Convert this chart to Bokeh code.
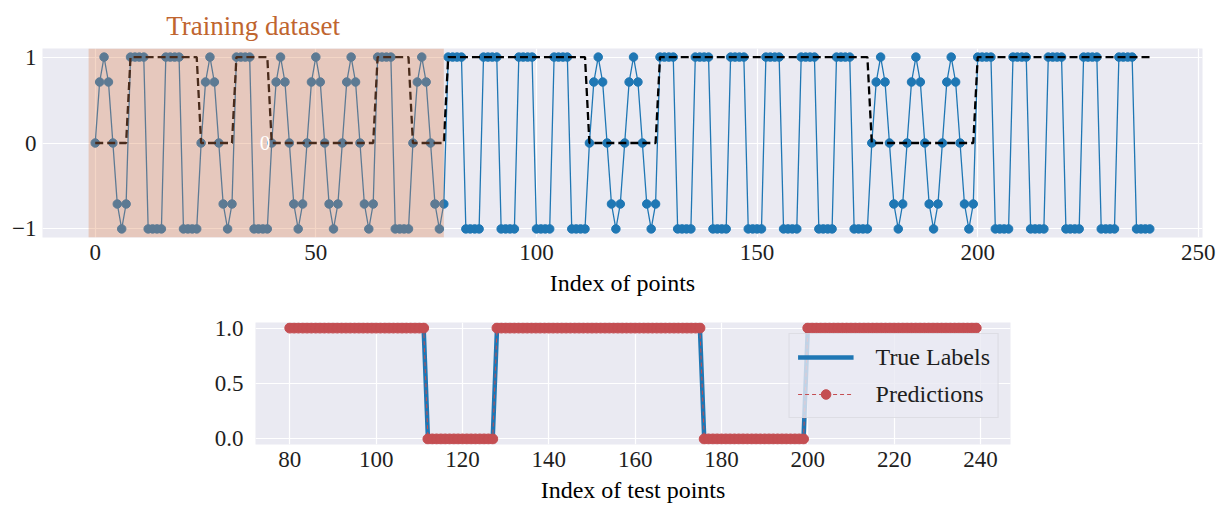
import numpy as np
from bokeh.plotting import figure
from bokeh.models import (Range1d, FixedTicker, BoxAnnotation, Label, Legend,
                          LegendItem, Spacer, Title)
from bokeh.layouts import column, row
from bokeh.embed import file_html
from bokeh.resources import INLINE

# ---------------------------------------------------------------- data
# Input signal, one row per block of 8 samples
signal = [
    0, 0.71, 1, 0.71, 0, -0.71, -1, -0.71,   # 0
    1, 1, 1, 1, -1, -1, -1, -1,              # 8
    1, 1, 1, 1, -1, -1, -1, -1,              # 16
    0, 0.71, 1, 0.71, 0, -0.71, -1, -0.71,   # 24
    1, 1, 1, 1, -1, -1, -1, -1,              # 32
    0, 0.71, 1, 0.71, 0, -0.71, -1, -0.71,   # 40
    0, 0.71, 1, 0.71, 0, -0.71, -1, -0.71,   # 48
    0, 0.71, 1, 0.71, 0, -0.71, -1, -0.71,   # 56
    1, 1, 1, 1, -1, -1, -1, -1,              # 64
    0, 0.71, 1, 0.71, 0, -0.71, -1, -0.71,   # 72
    1, 1, 1, 1, -1, -1, -1, -1,              # 80
    1, 1, 1, 1, -1, -1, -1, -1,              # 88
    1, 1, 1, 1, -1, -1, -1, -1,              # 96
    1, 1, 1, 1, -1, -1, -1, -1,              # 104
    0, 0.71, 1, 0.71, 0, -0.71, -1, -0.71,   # 112
    0, 0.71, 1, 0.71, 0, -0.71, -1, -0.71,   # 120
    1, 1, 1, 1, -1, -1, -1, -1,              # 128
    1, 1, 1, 1, -1, -1, -1, -1,              # 136
    1, 1, 1, 1, -1, -1, -1, -1,              # 144
    1, 1, 1, 1, -1, -1, -1, -1,              # 152
    1, 1, 1, 1, -1, -1, -1, -1,              # 160
    1, 1, 1, 1, -1, -1, -1, -1,              # 168
    0, 0.71, 1, 0.71, 0, -0.71, -1, -0.71,   # 176
    0, 0.71, 1, 0.71, 0, -0.71, -1, -0.71,   # 184
    0, 0.71, 1, 0.71, 0, -0.71, -1, -0.71,   # 192
    1, 1, 1, 1, -1, -1, -1, -1,              # 200
    1, 1, 1, 1, -1, -1, -1, -1,              # 208
    1, 1, 1, 1, -1, -1, -1, -1,              # 216
    1, 1, 1, 1, -1, -1, -1, -1,              # 224
    1, 1, 1, 1, -1, -1, -1, -1,              # 232
]

# Class label of every sample (0 = sine, 1 = square)
labels = [
    0, 0, 0, 0, 0, 0, 0, 0,   1, 1, 1, 1, 1, 1, 1, 1,   # 0
    1, 1, 1, 1, 1, 1, 1, 1,   0, 0, 0, 0, 0, 0, 0, 0,   # 16
    1, 1, 1, 1, 1, 1, 1, 1,   0, 0, 0, 0, 0, 0, 0, 0,   # 32
    0, 0, 0, 0, 0, 0, 0, 0,   0, 0, 0, 0, 0, 0, 0, 0,   # 48
    1, 1, 1, 1, 1, 1, 1, 1,   0, 0, 0, 0, 0, 0, 0, 0,   # 64
    1, 1, 1, 1, 1, 1, 1, 1,   1, 1, 1, 1, 1, 1, 1, 1,   # 80
    1, 1, 1, 1, 1, 1, 1, 1,   1, 1, 1, 1, 1, 1, 1, 1,   # 96
    0, 0, 0, 0, 0, 0, 0, 0,   0, 0, 0, 0, 0, 0, 0, 0,   # 112
    1, 1, 1, 1, 1, 1, 1, 1,   1, 1, 1, 1, 1, 1, 1, 1,   # 128
    1, 1, 1, 1, 1, 1, 1, 1,   1, 1, 1, 1, 1, 1, 1, 1,   # 144
    1, 1, 1, 1, 1, 1, 1, 1,   1, 1, 1, 1, 1, 1, 1, 1,   # 160
    0, 0, 0, 0, 0, 0, 0, 0,   0, 0, 0, 0, 0, 0, 0, 0,   # 176
    0, 0, 0, 0, 0, 0, 0, 0,   1, 1, 1, 1, 1, 1, 1, 1,   # 192
    1, 1, 1, 1, 1, 1, 1, 1,   1, 1, 1, 1, 1, 1, 1, 1,   # 208
    1, 1, 1, 1, 1, 1, 1, 1,   1, 1, 1, 1, 1, 1, 1, 1,   # 224
]

# Model output on the test samples (index 80 .. 239)
predictions = [
    1, 1, 1, 1, 1, 1, 1, 1,   1, 1, 1, 1, 1, 1, 1, 1,   # 80
    1, 1, 1, 1, 1, 1, 1, 1,   1, 1, 1, 1, 1, 1, 1, 1,   # 96
    0, 0, 0, 0, 0, 0, 0, 0,   0, 0, 0, 0, 0, 0, 0, 0,   # 112
    1, 1, 1, 1, 1, 1, 1, 1,   1, 1, 1, 1, 1, 1, 1, 1,   # 128
    1, 1, 1, 1, 1, 1, 1, 1,   1, 1, 1, 1, 1, 1, 1, 1,   # 144
    1, 1, 1, 1, 1, 1, 1, 1,   1, 1, 1, 1, 1, 1, 1, 1,   # 160
    0, 0, 0, 0, 0, 0, 0, 0,   0, 0, 0, 0, 0, 0, 0, 0,   # 176
    0, 0, 0, 0, 0, 0, 0, 0,   1, 1, 1, 1, 1, 1, 1, 1,   # 192
    1, 1, 1, 1, 1, 1, 1, 1,   1, 1, 1, 1, 1, 1, 1, 1,   # 208
    1, 1, 1, 1, 1, 1, 1, 1,   1, 1, 1, 1, 1, 1, 1, 1,   # 224
]

n_train = 80
train_span = (-1.5, 79)
top_xticks = [0, 50, 100, 150, 200, 250]
top_yticks = [-1, 0, 1]
bottom_xticks = [80, 100, 120, 140, 160, 180, 200, 220, 240]
bottom_yticks = [0.0, 0.5, 1.0]

# ---------------------------------------------------------------- style
SERIF = "Liberation Serif"
BG = "#eaeaf2"
TXT = "#1e1e1e"
BLUE = "#1f77b4"
RED = "#c44e52"
ORANGE = "#dd8452"


def style(fig, xticks, yticks, xlabel, y_std):
    fig.xaxis.ticker = FixedTicker(ticks=xticks)
    fig.yaxis.ticker = FixedTicker(ticks=yticks)
    for ax in (fig.xaxis, fig.yaxis):
        ax.axis_line_color = None
        ax.major_tick_line_color = None
        ax.minor_tick_line_color = None
        ax.major_tick_in = 0
        ax.major_tick_out = 0
        ax.major_label_text_font = SERIF
        ax.major_label_text_font_size = "23px"
        ax.major_label_text_color = TXT
    fig.xaxis.major_label_standoff = 7
    fig.yaxis.major_label_standoff = y_std
    fig.xaxis.axis_label = xlabel
    fig.xaxis.axis_label_text_font = SERIF
    fig.xaxis.axis_label_text_font_style = "normal"
    fig.xaxis.axis_label_text_font_size = "24px"
    fig.xaxis.axis_label_text_color = "black"
    fig.xaxis.axis_label_standoff = 7
    fig.grid.grid_line_color = "white"
    fig.grid.grid_line_width = 1.2


# ---------------------------------------------------------------- top panel
idx = np.arange(len(signal))
FRAME_W = 1160
x_lo, x_hi = -0.05 * (len(idx) - 1), 1.05 * (len(idx) - 1)

top = figure(frame_width=FRAME_W, frame_height=189,
             min_border_left=42, min_border_right=23,
             min_border_top=48, min_border_bottom=68,
             x_range=Range1d(x_lo, x_hi),
             y_range=Range1d(-1.1, 1.1),
             background_fill_color=BG, border_fill_color="white",
             outline_line_color=None,
             output_backend="svg", toolbar_location=None)
style(top, top_xticks, top_yticks, "Index of points", 6)
top.yaxis.major_label_overrides = {-1: "\u22121", 0: "0", 1: "1"}

top.line(idx, signal, line_color=BLUE, line_width=1.3)
top.scatter(idx, signal, size=8.5, fill_color=BLUE, line_color=BLUE)
top.line(idx, labels, line_color="black", line_width=2.3, line_dash="8 4")

top.add_layout(BoxAnnotation(left=train_span[0], right=train_span[1],
                             fill_color=ORANGE, fill_alpha=0.33,
                             line_alpha=0))

# heading placed over the training region
train_mid = (train_span[0] + train_span[1]) / 2
heading_w = 200
shift = (train_mid - x_lo) / (x_hi - x_lo) * FRAME_W - heading_w / 2
top.add_layout(Title(text="Training dataset", align="left", offset=shift,
                     text_font=SERIF, text_font_size="27px",
                     text_font_style="normal", text_color="#c0652f",
                     standoff=16), "above")
top.add_layout(Label(x=38.5, y=0, text="0", text_align="center",
                     text_baseline="middle", text_font=SERIF,
                     text_font_size="21px", text_color="white"))

# ---------------------------------------------------------------- bottom panel
test_idx = idx[n_train:]
true_test = labels[n_train:]
span = test_idx[-1] - test_idx[0]

bottom = figure(frame_width=755, frame_height=122,
                min_border_left=75, min_border_right=15,
                min_border_top=17, min_border_bottom=70,
                x_range=Range1d(test_idx[0] - 0.05 * span,
                                test_idx[-1] + 0.05 * span),
                y_range=Range1d(-0.05, 1.05),
                background_fill_color=BG, border_fill_color="white",
                outline_line_color=None,
                output_backend="svg", toolbar_location=None)
style(bottom, bottom_xticks, bottom_yticks, "Index of test points", 12)
bottom.yaxis.major_label_overrides = {0: "0.0", 0.5: "0.5", 1: "1.0"}

r_true = bottom.line(test_idx, true_test, line_color=BLUE, line_width=4.5)
r_pred_line = bottom.line(test_idx, predictions, line_color=RED,
                          line_width=1, line_dash="4 3")
r_pred_dots = bottom.scatter(test_idx, predictions, size=10,
                             fill_color=RED, line_color=RED)

legend = Legend(items=[LegendItem(label="True Labels", renderers=[r_true]),
                       LegendItem(label="Predictions",
                                  renderers=[r_pred_line, r_pred_dots])],
                location="top_right", margin=11, padding=8, spacing=7,
                glyph_width=56, glyph_height=24, label_height=30,
                label_standoff=22,
                label_text_font=SERIF, label_text_font_size="24px",
                label_text_color=TXT,
                background_fill_color=BG, background_fill_alpha=0.8,
                border_line_color="#cfcfd6", border_line_width=1)
bottom.add_layout(legend)

layout = column(top, row(Spacer(width=180, height=10), bottom))

with open("out.html", "w") as fh:
    fh.write(file_html(layout, INLINE))
